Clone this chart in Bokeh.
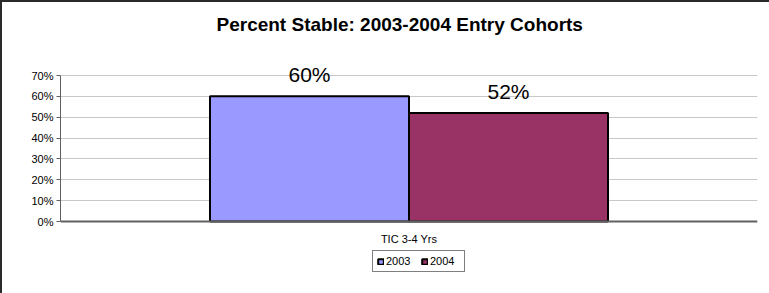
from bokeh.plotting import figure
from bokeh.models import (ColumnDataSource, FactorRange, Range1d, NumeralTickFormatter,
                          FixedTicker, Legend, LegendItem, Title)
from bokeh.transform import dodge
from bokeh.core.properties import value
from bokeh.embed import file_html
from bokeh.resources import INLINE

# ---- data ----
categories = ["TIC 3-4 Yrs"]
series = ["2003", "2004"]
values_2003 = [0.60]
values_2004 = [0.52]
labels_2003 = ["60%"]
labels_2004 = ["52%"]
y_ticks = [0.0, 0.1, 0.2, 0.3, 0.4, 0.5, 0.6, 0.7]
y_max = 0.7
title_text = "Percent Stable: 2003-2004 Entry Cohorts"

FONT = "Liberation Sans"

# layout (pixels)
W, H = 769, 293
FRAME_TOP, TOP_TICK_Y, AXIS_Y, FRAME_BOTTOM = 58, 75, 221, 288
PX_PER_UNIT = (AXIS_Y - TOP_TICK_Y) / y_max
# extend the frame beyond the tick range so labels and legend are not clipped
range_top = y_max + (TOP_TICK_Y - FRAME_TOP) / PX_PER_UNIT
range_bottom = -(FRAME_BOTTOM - AXIS_Y) / PX_PER_UNIT

src = ColumnDataSource(dict(cat=categories, v2003=values_2003, v2004=values_2004,
                            l2003=labels_2003, l2004=labels_2004))

p = figure(width=W, height=H, x_range=FactorRange(*categories, range_padding=0),
           y_range=Range1d(range_bottom, range_top), output_backend="svg",
           toolbar_location=None,
           min_border_left=60, min_border_right=12, min_border_top=FRAME_TOP,
           min_border_bottom=H - FRAME_BOTTOM, title=None)
p.outline_line_color = None
p.background_fill_color = "white"
p.border_fill_color = None
p.styles = {"box-shadow": "inset 2px 2px 0 0 #2a2a2a", "background-color": "white"}

bw = 0.2855
r1 = p.vbar(x=dodge("cat", -bw / 2, range=p.x_range), top="v2003", width=bw, source=src,
            fill_color="#9999FF", line_color="black", line_width=2)
r2 = p.vbar(x=dodge("cat", bw / 2, range=p.x_range), top="v2004", width=bw, source=src,
            fill_color="#993366", line_color="black", line_width=2)

p.text(x=dodge("cat", -bw / 2, range=p.x_range), y="v2003", text="l2003", source=src,
       text_align="center", text_baseline="alphabetic", y_offset=-22,
       text_font=value(FONT), text_font_size="21px", text_color="black")
p.text(x=dodge("cat", bw / 2, range=p.x_range), y="v2004", text="l2004", source=src,
       text_align="center", text_baseline="alphabetic", y_offset=-22,
       text_font=value(FONT), text_font_size="21px", text_color="black")

# axes
p.yaxis.ticker = FixedTicker(ticks=y_ticks)
p.yaxis.bounds = (0, y_max)
p.yaxis.formatter = NumeralTickFormatter(format="0%")
p.yaxis.major_label_text_font = FONT
p.yaxis.major_label_text_font_size = "11px"
p.yaxis.major_label_text_color = "black"
p.yaxis.axis_line_color = "#606060"
p.yaxis.axis_line_width = 1
p.yaxis.major_tick_line_color = "#606060"
p.yaxis.major_tick_out = 4
p.yaxis.major_tick_in = 0
p.yaxis.minor_tick_line_color = None
p.yaxis.major_label_standoff = 3

p.xaxis.fixed_location = 0
p.xaxis.major_label_text_font = FONT
p.xaxis.major_label_text_font_size = "11px"
p.xaxis.major_label_text_color = "black"
p.xaxis.axis_line_color = "#606060"
p.xaxis.axis_line_width = 2
p.xaxis.major_tick_line_color = None
p.xaxis.major_tick_out = 0
p.xaxis.major_tick_in = 0
p.xaxis.major_label_standoff = 11

p.xgrid.grid_line_color = None
p.ygrid.grid_line_color = "#c8c8c8"
p.ygrid.grid_line_width = 1

# title: invisible spacer nearest the frame, then the real title
p.add_layout(Title(text=" ", text_font_size="10px", standoff=1), "above")
p.add_layout(Title(text=title_text, align="left", offset=156, standoff=20,
                   text_font=FONT, text_font_size="19px",
                   text_font_style="bold", text_color="black"), "above")

# legend (inside the extended frame, below the axis)
legend = Legend(items=[LegendItem(label=series[0], renderers=[r1]),
                       LegendItem(label=series[1], renderers=[r2])],
                orientation="horizontal", location=(312, FRAME_BOTTOM - 272),
                border_line_color="black", border_line_width=1,
                background_fill_color="white", background_fill_alpha=1,
                label_text_font=FONT, label_text_font_size="11px",
                label_text_color="black",
                glyph_width=7, glyph_height=7, label_standoff=2, spacing=5,
                padding=4, margin=0, label_height=11, label_width=30)
p.add_layout(legend, "center")

open("out.html", "w").write(file_html(p, INLINE))
